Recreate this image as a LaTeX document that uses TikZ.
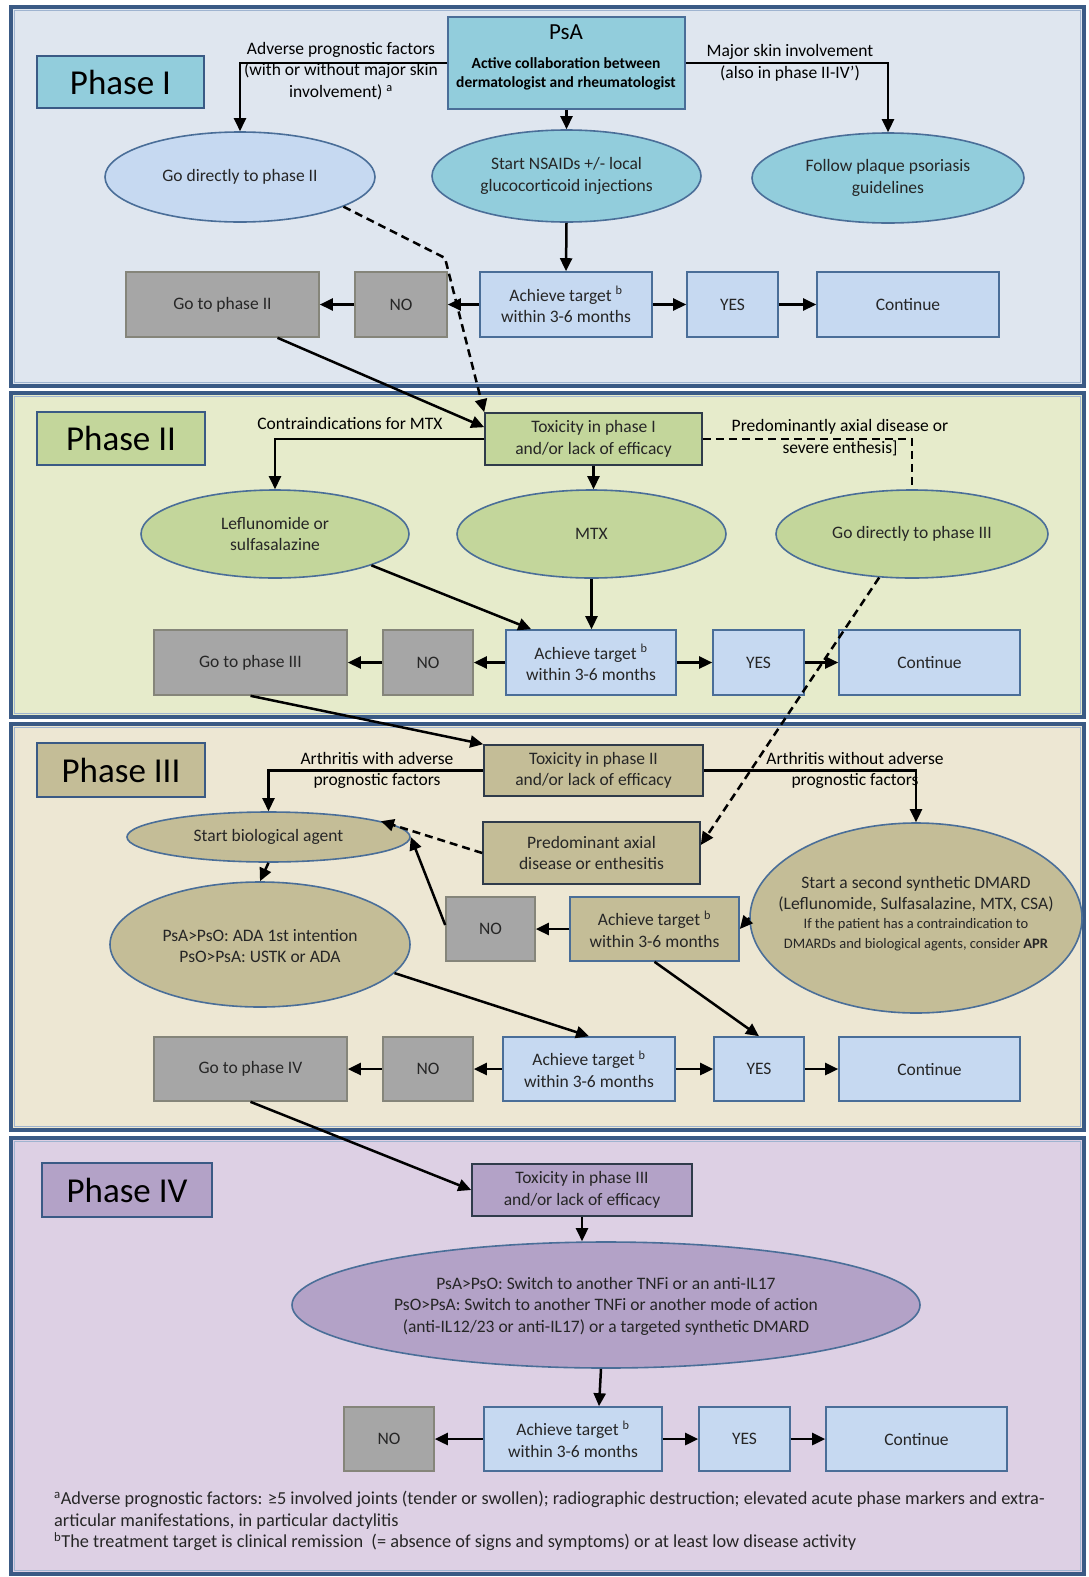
\documentclass[tikz,border=0pt]{standalone}
\usepackage{fontspec}
\setmainfont{Carlito}
\usetikzlibrary{arrows.meta,shapes.geometric,calc}
\definecolor{bgone}{HTML}{DFE6EF}
\definecolor{bgtwo}{HTML}{E6EBCB}
\definecolor{bgthree}{HTML}{EDE7D3}
\definecolor{bgfour}{HTML}{DDD0E4}
\definecolor{framec}{HTML}{3A5A85}
\definecolor{framel}{HTML}{9FB4D0}
\definecolor{tealf}{HTML}{92CDDC}
\definecolor{lbluef}{HTML}{C6D9F1}
\definecolor{edgec}{HTML}{4A6E98}
\definecolor{grayf}{HTML}{A6A6A6}
\definecolor{grayd}{HTML}{85857A}
\definecolor{olivef}{HTML}{C3D69B}
\definecolor{tanf}{HTML}{C4BD97}
\definecolor{purpf}{HTML}{B3A2C7}
\definecolor{txt}{HTML}{262626}
\definecolor{darkd}{HTML}{2F3B4A}
\newcommand\fsz[2]{\fontsize{#1}{#2}\selectfont}
\begin{document}
\begin{tikzpicture}[x=1pt,y=-1pt,
  base/.style={draw=edgec, line width=1.6pt, align=center, inner sep=0pt, text=txt, font=\fsz{17.5}{21.5}},
  lb/.style={base, fill=lbluef},
  gb/.style={base, fill=grayf, draw=grayd},
  tb/.style={base, fill=tealf},
  ob/.style={base, fill=olivef, draw=darkd},
  nb/.style={base, fill=tanf, draw=darkd},
  pb/.style={base, fill=purpf, draw=darkd},
  el/.style={base, ellipse},
  phase/.style={draw=framec, line width=2.8pt, font=\fsz{35}{40}, text=black, inner sep=0pt},
  panel/.style={draw=framec, line width=3.4pt},
  arr/.style={-{Triangle[length=13pt,width=12pt]}, line width=2.5pt, black},
  dsh/.style={line width=2.5pt, black, dash pattern=on 8pt off 5pt},
  lbl/.style={align=center, font=\fsz{17.5}{21.5}, text=black, inner sep=0pt}
]
\useasboundingbox (0,0) rectangle (1089,1577);
\fill[white] (0,0) rectangle (1089,1577);
% panels
\draw[panel, fill=bgone] (11,7) rectangle (1084,386);
\draw[panel, fill=bgtwo] (11,393) rectangle (1084,717);
\draw[panel, fill=bgthree] (11,724) rectangle (1084,1130);
\draw[panel, fill=bgfour] (11,1138) rectangle (1084,1574);
\foreach \ya/\yb in {7/386,393/717,724/1130,1138/1574}
  \draw[framel, line width=1pt] (14.2,\ya+3.2) rectangle (1080.8,\yb-3.2);

% ---------------- Phase I
\node[phase, fill=tealf, minimum width=167, minimum height=52] (labI) at (120.5,82) {Phase I};
\node[tb, minimum width=237, minimum height=92] (psa) at (566.5,63) {};
\node[lbl, font=\fsz{23}{27}] (psat) at (566,32) {PsA};
\node[lbl, font=\fsz{15.5}{19}\bfseries] (psab) at (566,74) {Active collaboration between\\dermatologist and rheumatologist};
\node[el, fill=lbluef, minimum width=270, minimum height=90] (e1) at (240,177) {Go directly to phase II};
\node[el, fill=tealf, minimum width=269, minimum height=92] (e2) at (566.5,176) {Start NSAIDs +/- local\\glucocorticoid injections};
\node[el, fill=tealf, minimum width=272, minimum height=90] (e3) at (888,178) {Follow plaque psoriasis\\guidelines};
\node[lbl] (l1) at (341,71) {Adverse prognostic factors\\(with or without major skin\\involvement) \textsuperscript{a}};
\node[lbl] (l2) at (790,63) {Major skin involvement\\(also in phase II-IV')};
\node[gb, minimum width=193, minimum height=65] (g1) at (222.5,304.5) {Go to phase II};
\node[gb, minimum width=92, minimum height=65] (n1) at (401,304.5) {NO};
\node[lb, minimum width=172, minimum height=65] (a1) at (566,304.5) {Achieve target \textsuperscript{b}\\within 3-6 months};
\node[lb, minimum width=91, minimum height=65] (y1) at (732.5,304.5) {YES};
\node[lb, minimum width=182, minimum height=65] (c1) at (908,304.5) {Continue};

% ---------------- Phase II
\node[phase, fill=olivef, minimum width=168, minimum height=53] (labII) at (121,438.5) {Phase II};
\node[ob, minimum width=217, minimum height=52] (t2) at (593.5,439) {Toxicity in phase I\\and/or lack of efficacy};
\node[lbl] (l3) at (350,423) {Contraindications for MTX};
\node[lbl] (l4) at (840,437.5) {Predominantly axial disease or\\severe enthesis]};
\node[el, fill=olivef, minimum width=268, minimum height=88] (le) at (275,534) {Leflunomide or\\sulfasalazine};
\node[el, fill=olivef, minimum width=269, minimum height=88] (mtx) at (591.5,534) {MTX};
\node[el, fill=olivef, minimum width=272, minimum height=88] (gd3) at (912,534) {Go directly to phase III};
\node[gb, minimum width=193, minimum height=65] (g2) at (250.5,662.5) {Go to phase III};
\node[gb, minimum width=90, minimum height=65] (n2) at (428,662.5) {NO};
\node[lb, minimum width=170, minimum height=65] (a2) at (591,662.5) {Achieve target \textsuperscript{b}\\within 3-6 months};
\node[lb, minimum width=91, minimum height=65] (y2) at (758.5,662.5) {YES};
\node[lb, minimum width=181, minimum height=65] (c2) at (929.5,662.5) {Continue};

% ---------------- Phase III
\node[phase, fill=tanf, minimum width=168, minimum height=54] (labIII) at (121,770) {Phase III};
\node[nb, minimum width=219, minimum height=51] (t3) at (593.5,770.5) {Toxicity in phase II\\and/or lack of efficacy};
\node[lbl] (l5) at (377,770.5) {Arthritis with adverse\\prognostic factors};
\node[lbl] (l6) at (855,770.5) {Arthritis without adverse\\prognostic factors};
\node[el, fill=tanf, minimum width=283, minimum height=50] (sb) at (268.5,837) {Start biological agent};
\node[nb, minimum width=217, minimum height=62] (pd) at (591.5,853) {Predominant axial\\disease or enthesitis};
\node[el, fill=tanf, minimum width=300, minimum height=125] (e3b) at (260,944.5) {};
\node[lbl, text=txt] (e3bt) at (260,946) {PsA>PsO: ADA 1st intention\\PsO>PsA: USTK or ADA};
\node[gb, minimum width=89, minimum height=64] (n3) at (490.5,929) {NO};
\node[nb, draw=edgec, minimum width=169, minimum height=64] (a3) at (654.5,929) {Achieve target \textsuperscript{b}\\within 3-6 months};
\node[el, fill=tanf, minimum width=332, minimum height=190] (dm) at (916,918) {};
\node[lbl, text=txt] (dmt1) at (916,894) {Start a second synthetic DMARD\\(Leflunomide, Sulfasalazine, MTX, CSA)};
\node[lbl, text=txt, font=\fsz{14.5}{20}] (dmt2) at (916,935) {If the patient has a contraindication to\\DMARDs and biological agents, consider \textbf{APR}};
\node[gb, minimum width=193, minimum height=64] (g3) at (250.5,1069) {Go to phase IV};
\node[gb, minimum width=90, minimum height=64] (n3b) at (428,1069) {NO};
\node[lb, minimum width=172, minimum height=64] (a3b) at (589,1069) {Achieve target \textsuperscript{b}\\within 3-6 months};
\node[lb, minimum width=90, minimum height=64] (y3) at (759,1069) {YES};
\node[lb, minimum width=181, minimum height=64] (c3) at (929.5,1069) {Continue};

% ---------------- Phase IV
\node[phase, fill=purpf, minimum width=170, minimum height=54] (labIV) at (127,1190) {Phase IV};
\node[pb, minimum width=220, minimum height=52] (t4) at (582,1190) {Toxicity in phase III\\and/or lack of efficacy};
\node[el, fill=purpf, minimum width=628, minimum height=126] (e4) at (606,1305) {};
\node[lbl, text=txt] (e4t) at (606,1306) {PsA>PsO: Switch to another TNFi or an anti-IL17\\PsO>PsA: Switch to another TNFi or another mode of action\\(anti-IL12/23 or anti-IL17) or a targeted synthetic DMARD};
\node[gb, minimum width=90, minimum height=64] (n4) at (389,1439) {NO};
\node[lb, minimum width=178, minimum height=64] (a4) at (573,1439) {Achieve target \textsuperscript{b}\\within 3-6 months};
\node[lb, minimum width=91, minimum height=64] (y4) at (744.5,1439) {YES};
\node[lb, minimum width=181, minimum height=64] (c4) at (916.5,1439) {Continue};
\node[anchor=north west, align=left, font=\fsz{18.3}{21.5}, text=txt, inner sep=0pt] (fn) at (54,1491) {\textsuperscript{a}Adverse prognostic factors: ≥5 involved joints (tender or swollen); radiographic destruction; elevated acute phase markers and extra-\\articular manifestations, in particular dactylitis\\\textsuperscript{b}The treatment target is clinical remission~ (= absence of signs and symptoms) or at least low disease activity};

% ---------------- connectors Phase I
\draw[arr] (psa.west) -| (e1.north);
\draw[arr] (psa.east) -| (e3.north);
\draw[arr] (psa.south) -- (e2.north);
\draw[arr] (e2.south) -- (a1.north);
\draw[arr] (a1.west) -- (n1.east);
\draw[arr] (n1.west) -- (g1.east);
\draw[arr] (a1.east) -- (y1.west);
\draw[arr] (y1.east) -- (c1.west);
\coordinate (d1) at (445,258);
\draw[arr, dsh] (e1.-16) -- (d1) -- (t2.north west);
\draw[arr] ($(g1.south)+(55,0)$) -- ($(t2.north west)+(0,15)$);
% Phase II
\draw[arr] (t2.west) -| (le.north);
\draw[arr] (t2.south) -- (t2.south |- mtx.north);
\draw[dsh] (t2.east) -| (gd3.north);
\draw[arr] (le.-18) -- ($(a2.north west)+(26,0)$);
\draw[arr] (mtx.south) -- (mtx.south |- a2.north);
\draw[arr] (a2.west) -- (n2.east);
\draw[arr] (n2.west) -- (g2.east);
\draw[arr] (a2.east) -- (y2.west);
\draw[arr] (y2.east) -- (c2.west);
\draw[arr, dsh] (gd3.-127) -- ($(pd.east)+(0,-8)$);
% Phase III
\draw[arr] (g2.south) -- (t3.north west);
\draw[arr] (t3.west) -| (sb.north);
\draw[arr] (t3.east) -| (dm.north);
\draw[arr, dsh] (pd.west) -- (sb.8);
\draw[arr] ($(n3.west)+(0,-4)$) -- (sb.east);
\draw[arr] (sb.south) -- (e3b.north);
\draw[arr] (a3.west) -- (n3.east);
\draw[arr] (dm.west) -- (a3.east);
\draw[arr] (a3.south) -- (y3.north);
\draw[arr] (e3b.-12) -- (a3b.north);
\draw[arr] (a3b.west) -- (n3b.east);
\draw[arr] (n3b.west) -- (g3.east);
\draw[arr] (a3b.east) -- (y3.west);
\draw[arr] (y3.east) -- (c3.west);
\draw[arr] (g3.south) -- (t4.west);
% Phase IV
\draw[arr] (t4.south) -- (t4.south |- e4.north);
\draw[arr] ($(e4.south)+(-5,0)$) -- ($(a4.north)+(26,0)$);
\draw[arr] (a4.west) -- (n4.east);
\draw[arr] (a4.east) -- (y4.west);
\draw[arr] (y4.east) -- (c4.west);
\end{tikzpicture}
\end{document}
